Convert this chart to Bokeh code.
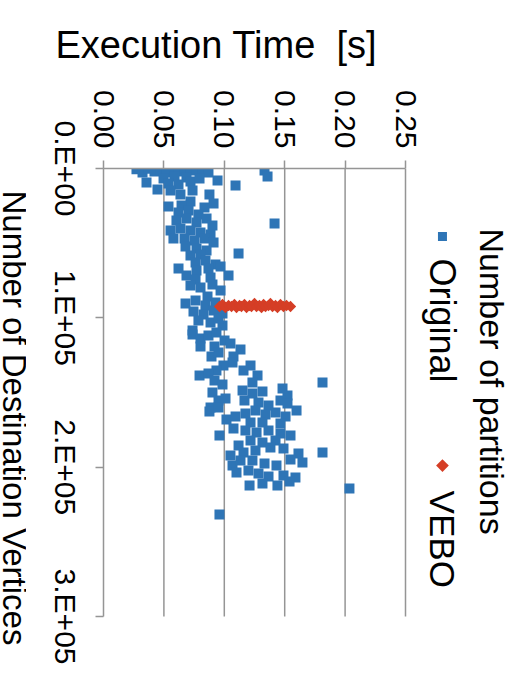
import math
from bokeh.plotting import figure
from bokeh.layouts import row
from bokeh.models import Range1d, FixedTicker, Label, LinearAxis
from bokeh.embed import file_html
from bokeh.resources import INLINE

# ---------------- data ----------------
orig_time = [
    0.0273, 0.0323, 0.0373, 0.0422, 0.0472, 0.0522, 0.0571, 0.0621, 0.0671, 0.0720,
    0.0770, 0.0820, 0.0869, 0.0588, 0.0687, 0.0497, 0.0356, 0.0447, 0.0538, 0.0621,
    0.0720, 0.0795, 0.0944, 0.1093, 0.1333, 0.1358, 0.0637, 0.0555, 0.0737, 0.0877,
    0.0911, 0.0836, 0.0720, 0.0646, 0.0538, 0.1416, 0.0621, 0.0704, 0.0786, 0.0604,
    0.0687, 0.0770, 0.0853, 0.0902, 0.0555, 0.0637, 0.0720, 0.0803, 0.0886, 0.0579,
    0.0671, 0.0753, 0.0836, 0.0911, 0.0679, 0.0770, 0.0853, 0.0720, 0.0803, 0.1118,
    0.0762, 0.0844, 0.0927, 0.0621, 0.0687, 0.0770, 0.0869, 0.0969, 0.1035, 0.0762,
    0.0886, 0.0720, 0.0803, 0.0902, 0.0969, 0.0861, 0.0679, 0.0762, 0.0844, 0.0927,
    0.0745, 0.0828, 0.0911, 0.0985, 0.0786, 0.0886, 0.0985, 0.0737, 0.0952, 0.0737,
    0.0803, 0.0869, 0.0935, 0.1002, 0.1051, 0.0803, 0.0919, 0.1134, 0.0894, 0.0952,
    0.1076, 0.1068, 0.1217, 0.1159, 0.0993, 0.0935, 0.0795, 0.0869, 0.0919, 0.0985,
    0.1275, 0.1233, 0.0902, 0.1151, 0.1233, 0.1316, 0.1167, 0.1283, 0.1482, 0.1523,
    0.1465, 0.0952, 0.1010, 0.0886, 0.1523, 0.1366, 0.1813, 0.0877, 0.0952, 0.1018,
    0.1093, 0.1175, 0.1258, 0.1341, 0.1424, 0.1507, 0.1598, 0.1217, 0.1316, 0.1465,
    0.1076, 0.0960, 0.1175, 0.1267, 0.1366, 0.1465, 0.1548, 0.1217, 0.1316, 0.1424,
    0.1118, 0.1159, 0.1258, 0.1382, 0.1490, 0.1614, 0.1647, 0.1548, 0.1051, 0.1068,
    0.1134, 0.1233, 0.1333, 0.1432, 0.1813, 0.1283, 0.1366, 0.1490, 0.1589, 0.1209,
    0.1316, 0.1440, 0.1540, 0.2036, 0.0960, 0.1200, 0.1101,
]
orig_vertices = [
    500, 2680, 200, 2010, 300, 2680, 500, 2010, 200, 1340,
    300, 2010, 2680, 5360, 6030, 6700, 9380, 14070, 10050, 10720,
    8710, 6700, 8040, 11390, 1340, 5360, 17410, 14740, 14740, 17410,
    23440, 26120, 22100, 24780, 25450, 36840, 29470, 28130, 30810, 34830,
    33490, 36170, 33490, 38180, 41530, 40190, 41530, 42870, 44210, 46890,
    46890, 48230, 46890, 49570, 52240, 53580, 54920, 58270, 57600, 56930,
    62960, 61620, 64300, 66980, 71670, 68320, 66980, 65640, 71670, 74350,
    73010, 78370, 79710, 77700, 81720, 85730, 90420, 88410, 91760, 89750,
    95780, 97790, 95110, 97120, 101810, 103150, 105160, 108510, 100470, 111190,
    113870, 111860, 109850, 115210, 117220, 119220, 119220, 121230, 125920, 123240,
    125920, 129940, 131950, 135300, 131950, 135300, 138650, 137310, 142000, 144680,
    138650, 143340, 150040, 148700, 150710, 149370, 155390, 156730, 147360, 152040,
    155390, 155390, 154050, 160080, 157400, 158740, 143340, 162760, 160080, 168120,
    166110, 164100, 162090, 164770, 163430, 166110, 162090, 170130, 170130, 170800,
    174150, 178840, 175490, 176830, 175490, 177500, 178840, 182190, 183530, 182190,
    185540, 190220, 188880, 186870, 187540, 190890, 196920, 194910, 192230, 198930,
    195580, 195580, 197590, 198930, 190220, 204290, 206300, 205630, 206970, 212330,
    210990, 212330, 209650, 214340, 231750, 202280, 203620,
]
vebo_time = [
    0.0960, 0.0985, 0.1010, 0.1035, 0.1060, 0.1084, 0.1101, 0.1126, 0.1142, 0.1167,
    0.1184, 0.1209, 0.1225, 0.1250, 0.1267, 0.1291, 0.1308, 0.1325, 0.1341, 0.1366,
    0.1382, 0.1399, 0.1424, 0.1440, 0.1465, 0.1490, 0.1515, 0.1548,
]
vebo_vertices = [
    92430, 91090, 93100, 91760, 92430, 91090, 93100, 91760, 92430, 91090,
    93100, 91760, 92430, 90420, 92430, 91760, 93100, 91090, 92430, 91760,
    90420, 92430, 91760, 93100, 91090, 92430, 91760, 92430,
]
time_ticks = [0.0, 0.05, 0.10, 0.15, 0.20, 0.25]
time_tick_labels = ["0.00", "0.05", "0.10", "0.15", "0.20", "0.25"]
vert_ticks = [0, 100000, 200000, 300000]
vert_tick_labels = ["0.E+00", "1.E+05", "2.E+05", "3.E+05"]
series_names = ["Original", "VEBO"]
legend_title = "Number of partitions"
x_title = "Execution Time\u00a0\u00a0[s]"
y_title = "Number of Destination Vertices"

# ---------------- styling / layout ----------------
FONT = "Liberation Sans"
BLUE = "#2E75B6"
RED = "#D53E26"
GRAY = "#959595"

TOTAL_H = 671
SIDE_W = 26                 # strip holding the vertical axis title
FRAME_TOP = 168
FRAME_W = 402
FRAME_H = TOTAL_H - FRAME_TOP
V_MAX = 300000
DATA_PER_PX = V_MAX / 448.0
V_BOTTOM = FRAME_H * DATA_PER_PX
x_end = 0.25 * FRAME_W / 302.0

# rotated tick labels on a left axis are end-anchored; a label-only axis is
# shifted by half the label length so that labels sit centred on the ticks
LAB_SHIFT = int(round(48 * DATA_PER_PX))

# ---- side strip with the vertical axis title ----
# (its frame is aligned with the main frame by the row layout, so its
#  vertical range is expressed in page pixels from FRAME_TOP to TOTAL_H)
side = figure(
    width=SIDE_W, height=TOTAL_H,
    x_range=Range1d(0, SIDE_W), y_range=Range1d(TOTAL_H, FRAME_TOP),
    x_axis_location=None, y_axis_location=None,
    output_backend="svg", toolbar_location=None, min_border=0,
)
side.outline_line_color = None
side.grid.visible = False
side.add_layout(Label(x=14, y=190, text=y_title, angle=-math.pi / 2,
                      text_font=FONT, text_font_size="33px", text_color="black",
                      text_align="left", text_baseline="middle"))

# ---- main chart ----
p = figure(
    frame_width=FRAME_W, frame_height=FRAME_H,
    x_range=Range1d(0, x_end), y_range=Range1d(V_BOTTOM, 0),
    x_axis_location="above",
    output_backend="svg", toolbar_location=None,
    min_border_left=103 - SIDE_W, min_border_right=5,
    min_border_top=FRAME_TOP, min_border_bottom=0,
)
p.outline_line_color = None
p.background_fill_color = "white"
p.border_fill_color = "white"

# title = horizontal axis title (top)
p.title.text = x_title
p.title.align = "left"
p.title.offset = -48
p.title.text_font = FONT
p.title.text_font_size = "38px"
p.title.text_font_style = "normal"
p.title.text_color = "black"
p.title.standoff = 43

# top axis (execution time)
xa = p.xaxis[0]
xa.ticker = FixedTicker(ticks=time_ticks)
xa.major_label_overrides = {t: s for t, s in zip(time_ticks, time_tick_labels)}
xa.bounds = (0, 0.25)
xa.axis_line_color = GRAY
xa.axis_line_width = 1.5
xa.major_tick_line_color = GRAY
xa.major_tick_line_width = 1.5
xa.major_tick_out = 8
xa.major_tick_in = 0
xa.minor_tick_out = 0
xa.minor_tick_in = 0
xa.major_label_orientation = -math.pi / 2
xa.major_label_standoff = 12
xa.major_label_text_font = FONT
xa.major_label_text_font_size = "30px"
xa.major_label_text_color = "black"

# left axis A: line and tick marks only
ya = p.yaxis[0]
ya.ticker = FixedTicker(ticks=vert_ticks)
ya.bounds = (0, V_MAX)
ya.major_label_overrides = {t: "" for t in vert_ticks}
ya.major_label_text_font_size = "1px"
ya.major_label_standoff = 0
ya.axis_line_color = GRAY
ya.axis_line_width = 1.5
ya.major_tick_line_color = GRAY
ya.major_tick_line_width = 1.5
ya.major_tick_out = 8
ya.major_tick_in = 0
ya.minor_tick_out = 0
ya.minor_tick_in = 0

# left axis B: tick labels (centred on the ticks of axis A)
lab_ticks = [v + LAB_SHIFT for v in vert_ticks]
yb = LinearAxis(
    ticker=FixedTicker(ticks=lab_ticks),
    major_label_overrides={t: s for t, s in zip(lab_ticks, vert_tick_labels)},
    axis_line_color=None, major_tick_line_color=None, minor_tick_line_color=None,
    major_tick_out=0, major_tick_in=0, minor_tick_out=0, minor_tick_in=0,
    major_label_orientation=-math.pi / 2, major_label_standoff=30,
    major_label_text_font=FONT, major_label_text_font_size="30px",
    major_label_text_color="black",
)
p.add_layout(yb, "left")

# vertical grid lines, limited to the axis extent
grid_ticks = time_ticks[1:]
p.xgrid.visible = False
p.ygrid.visible = False
p.segment(x0=grid_ticks, y0=[0] * len(grid_ticks), x1=grid_ticks,
          y1=[V_MAX] * len(grid_ticks), line_color=GRAY, line_width=1.5)

# data
p.scatter(orig_time, orig_vertices, marker="square", size=10,
          fill_color=BLUE, line_color=None)
p.scatter(vebo_time, vebo_vertices, marker="square", angle=math.pi / 4, size=8,
          fill_color=RED, line_color=None)

# legend (rotated, drawn by hand)
LEG_T = 0.2806
p.scatter([LEG_T], [45500], marker="square", size=9, fill_color=BLUE, line_color=None)
p.scatter([LEG_T], [198900], marker="square", angle=math.pi / 4, size=9,
          fill_color=RED, line_color=None)

def rlabel(x, y, text, size, align="left", baseline="middle"):
    p.add_layout(Label(x=x, y=y, text=text, angle=-math.pi / 2,
                       text_font=FONT, text_font_size=size, text_color="black",
                       text_align=align, text_baseline=baseline))

rlabel(0.3212, 40200, legend_title, "34px")
rlabel(LEG_T, 60300, series_names[0], "36px")
rlabel(LEG_T, 215700, series_names[1], "35px")

layout = row(side, p)
open("out.html", "w").write(file_html(layout, INLINE))
